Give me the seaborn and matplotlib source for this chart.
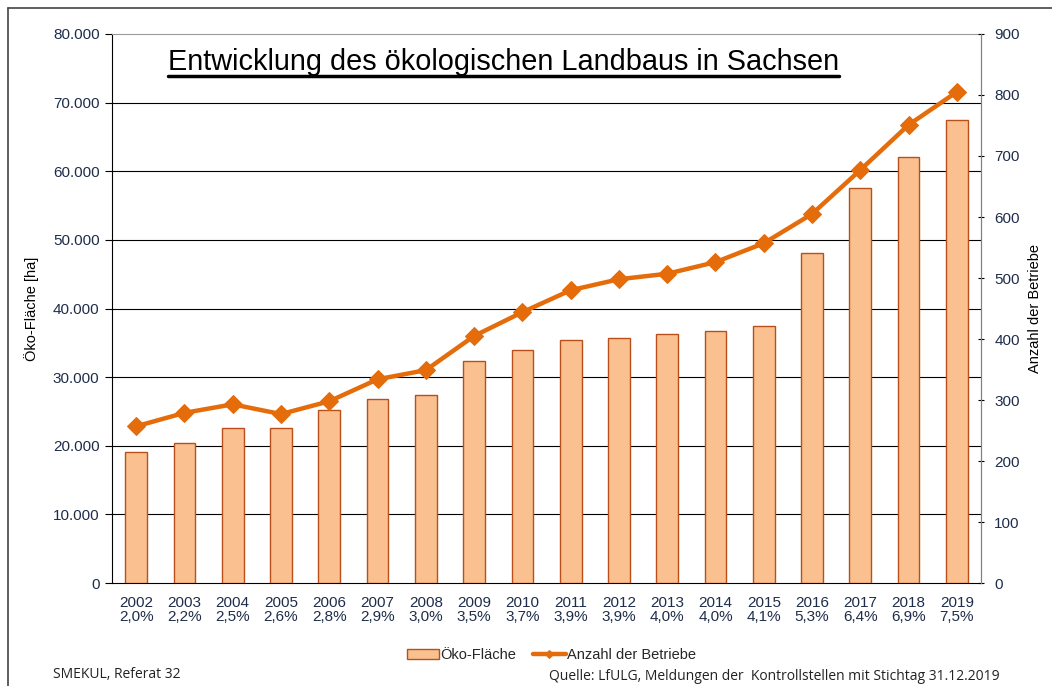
import numpy as np
import pandas as pd
import matplotlib
matplotlib.use("Agg")
import matplotlib.pyplot as plt
import seaborn as sns

# Daten
jahre = ["2002", "2003", "2004", "2005", "2006", "2007", "2008", "2009", "2010",
         "2011", "2012", "2013", "2014", "2015", "2016", "2017", "2018", "2019"]
anteil = ["2,0%", "2,2%", "2,5%", "2,6%", "2,8%", "2,9%", "3,0%", "3,5%", "3,7%",
          "3,9%", "3,9%", "4,0%", "4,0%", "4,1%", "5,3%", "6,4%", "6,9%", "7,5%"]
flaeche = [19100, 20400, 22600, 22600, 25200, 26800, 27400, 32400, 34000,
           35400, 35700, 36300, 36700, 37500, 48100, 57600, 62100, 67500]
betriebe = [257, 279, 293, 277, 298, 334, 349, 405, 444,
            480, 498, 507, 526, 557, 605, 677, 751, 805]

df = pd.DataFrame({"jahr": jahre, "flaeche": flaeche, "betriebe": betriebe})
df["pos"] = np.arange(len(df))

sns.set_style("white")
plt.rcParams["font.family"] = ["Liberation Sans", "DejaVu Sans"]

txt_col = "#1f2d4a"
bar_col = "#FAC090"
bar_edge = "#B9501C"
line_col = "#E46C0A"

fig = plt.figure(figsize=(10.52, 6.86), dpi=100)
ax = fig.add_axes([0.1065, 0.150, 0.826, 0.8005])

# Balken: Öko-Fläche
sns.barplot(data=df, x="pos", y="flaeche", ax=ax, color=bar_col, width=0.45,
            edgecolor=bar_edge, linewidth=1.0, saturation=1, zorder=3,
            label="Öko-Fläche")
ax.set_ylim(0, 80000)
ax.set_xlim(-0.5, len(df) - 0.5)
ax.set_yticks(np.arange(0, 80001, 10000))
ax.set_yticklabels([f"{v:,}".replace(",", ".") for v in range(0, 80001, 10000)],
                   fontsize=11, color=txt_col)
ax.set_xticks(df["pos"])
ax.set_xticklabels([f"{j}\n{a}" for j, a in zip(jahre, anteil)],
                   fontsize=11, color=txt_col, linespacing=1.05)
ax.tick_params(axis="x", length=0, pad=9)
ax.set_xticks(np.arange(-0.5, len(df), 1.0), minor=True)
ax.tick_params(axis="x", which="minor", length=5, direction="out", color="black")
ax.tick_params(axis="y", length=5, direction="out", color="black", pad=4)
ax.set_xlabel("")
ax.set_ylabel("Öko-Fläche [ha]", fontsize=10.5, color="black", labelpad=10)
for y in range(10000, 80000, 10000):
    ax.axhline(y, color="black", lw=0.8, zorder=1)
ax.spines["left"].set_color("black")
ax.spines["bottom"].set_color("black")
ax.spines["top"].set_color("#9a9a9a")
ax.spines["right"].set_color("#808080")

# Linie: Anzahl der Betriebe
ax2 = ax.twinx()
sns.lineplot(data=df, x="pos", y="betriebe", ax=ax2, color=line_col, lw=3.2,
             marker="D", markersize=9, markeredgecolor=line_col, zorder=4,
             label="Anzahl der Betriebe", legend=False)
ax2.set_ylim(0, 900)
ax2.set_yticks(np.arange(0, 901, 100))
ax2.set_yticklabels([str(v) for v in range(0, 901, 100)], fontsize=11, color=txt_col)
ax2.tick_params(axis="y", length=5, direction="inout", color="black", pad=7)
ax2.set_ylabel("Anzahl der Betriebe", fontsize=10.5, color="black", labelpad=6)
ax2.set_xlim(-0.5, len(df) - 0.5)
ax2.set_xlabel("")
for s in ["left", "top", "bottom"]:
    ax2.spines[s].set_visible(False)
ax2.spines["right"].set_color("#808080")

# Titel mit Unterstrich
title = fig.text(0.4785, 0.909, "Entwicklung des ökologischen Landbaus in Sachsen",
                 ha="center", va="center", fontsize=20.8, color="black")
fig.canvas.draw()
bb = title.get_window_extent().transformed(fig.transFigure.inverted())
fig.add_artist(plt.Line2D([bb.x0, bb.x1], [bb.y0 + 0.001, bb.y0 + 0.001],
                          transform=fig.transFigure, color="black", lw=2.5))

# Legende
h1, l1 = ax.get_legend_handles_labels()
h2, l2 = ax2.get_legend_handles_labels()
leg = fig.legend(h1 + h2, l1 + l2, loc="center", bbox_to_anchor=(0.524, 0.045),
                 ncol=2, frameon=False, handlelength=2.2, handletextpad=0.1,
                 columnspacing=1.2, markerscale=0.45,
                 prop={"family": ["Liberation Sans Narrow", "Liberation Sans"], "size": 10.5})
if ax.get_legend():
    ax.get_legend().remove()

# Quellen
fig.text(0.05, 0.012, "SMEKUL, Referat 32", fontsize=10, family=["Open Sans", "DejaVu Sans"],
         color="#222222")
fig.text(0.522, 0.003, "Quelle: LfULG, Meldungen der  Kontrollstellen mit Stichtag 31.12.2019",
         fontsize=10, family=["Open Sans", "DejaVu Sans"], color="#222222", va="bottom")

# Rahmen oben und links
fig.add_artist(plt.Line2D([0.0075, 1.0], [0.988, 0.988], transform=fig.transFigure,
                          color="#444444", lw=1.2))
fig.add_artist(plt.Line2D([0.0075, 0.0075], [0.0, 0.988], transform=fig.transFigure,
                          color="#444444", lw=1.2))

fig.savefig("out.png", dpi=100)
